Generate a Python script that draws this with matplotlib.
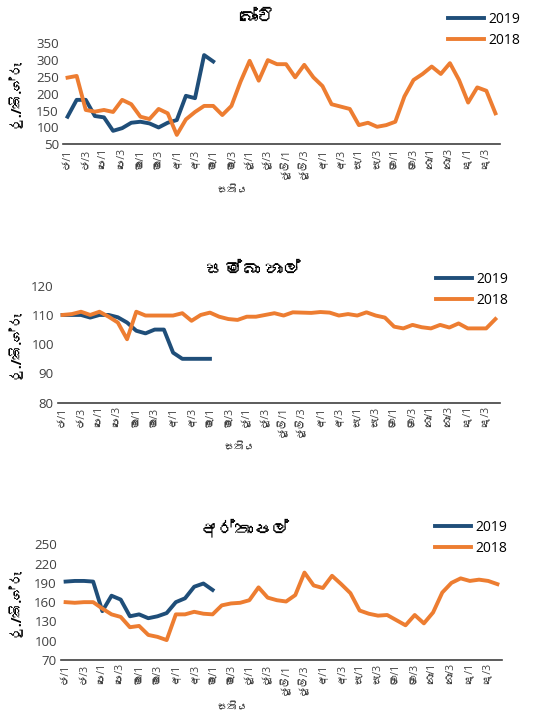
import matplotlib
matplotlib.use("Agg")
from matplotlib import pyplot as plt
from matplotlib import font_manager
from matplotlib.ft2font import FT2Font

# data (48 weeks, 4 per month)
week_labels = ["ජ/1", "ජ/3", "පෙ/1", "පෙ/3", "මා/1", "මා/3", "අ/1", "අ/3",
               "මැ/1", "මැ/3", "ජූ/1", "ජූ/3", "ජූලි/1", "ජූලි/3", "අ/1", "අ/3",
               "සැ/1", "සැ/3", "ඔ/1", "ඔ/3", "නො/1", "නො/3", "දෙ/1", "දෙ/3"]

beans_2018 = [248, 253, 152, 147, 152, 146, 182, 169, 132, 125, 155, 142,
              78, 124, 146, 164, 164, 137, 164, 236, 298, 239, 300, 288,
              288, 249, 286, 249, 223, 169, 162, 155, 107, 114, 102, 107,
              117, 192, 241, 259, 281, 259, 291, 241, 174, 219, 209, 142]
beans_2019 = [132, 182, 182, 134, 130, 90, 98, 114, 117, 112, 100, 114,
              122, 194, 187, 315, 296]

samba_2018 = [110, 110.3, 111.1, 110, 111.1, 109.4, 107.4, 101.7, 111.1, 109.8,
              109.8, 109.8, 109.8, 110.6, 108, 110, 110.8, 109.4, 108.6, 108.3,
              109.4, 109.4, 110, 110.6, 109.8, 110.9, 110.8, 110.7, 111, 110.8,
              109.8, 110.3, 109.8, 110.9, 109.8, 109.1, 106, 105.4, 106.6, 105.8,
              105.4, 106.6, 105.7, 107.1, 105.4, 105.4, 105.4, 108.6]
samba_2019 = [110, 110, 110, 109.1, 110, 110, 109.2, 107.4, 104.6, 103.7,
              105, 105, 97.1, 95, 95, 95, 95]

potato_2018 = [160, 159, 160, 160, 150, 141, 137, 121, 123, 109, 106, 101,
               141, 141, 145, 142, 141, 155, 158, 159, 163, 183, 167, 163,
               161, 171, 206, 186, 182, 201, 188, 174, 147, 142, 139, 140,
               132, 124, 140, 127, 144, 175, 190, 197, 193, 195, 193, 188]
potato_2019 = [192, 193, 193, 192, 146, 170, 164, 138, 141, 135, 138, 143,
               160, 166, 184, 189, 179]

titles = ["බෝංචි", "සම්බා හාල්", "අර්තාපල්"]
ylabel = "රු./කි.ග්රෑ"
xlabel = "සතිය"


# find a font that has Sinhala glyphs, if there is one
def find_sinhala():
    for f in font_manager.fontManager.ttflist:
        try:
            if 0x0DC3 in FT2Font(f.fname).get_charmap():
                return f.name
        except Exception:
            pass
    return None

sin = find_sinhala()
# latin font first so digits come from it, sinhala glyphs fall back
fams = ["Open Sans"] + ([sin] if sin else []) + ["DejaVu Sans"]
plt.rcParams["font.family"] = fams

BLUE = "#1F4E79"
ORANGE = "#ED7D31"
W, H = 548, 713

fig = plt.figure(figsize=(W / 100, H / 100), dpi=100)

# box = (left, right, top, bottom) in pixels
panels = [
    dict(box=(63, 500, 43.3, 144.3), ylim=(50, 350), yt=range(50, 351, 50),
         s18=beans_2018, s19=beans_2019, title=(257, 18), xl=(233, 190), leg=(448, 12)),
    dict(box=(58, 500, 285.7, 402.7), ylim=(80, 120), yt=range(80, 121, 10),
         s18=samba_2018, s19=samba_2019, title=(253, 270), xl=(240, 447), leg=(436, 272)),
    dict(box=(61, 502, 544.3, 660), ylim=(70, 250), yt=range(70, 251, 30),
         s18=potato_2018, s19=potato_2019, title=(245, 529), xl=(233, 707), leg=(435, 520)),
]

for p, title in zip(panels, titles):
    l, r, t, b = p["box"]
    ax = fig.add_axes([l / W, 1 - b / H, (r - l) / W, (b - t) / H])
    x18 = list(range(len(p["s18"])))
    x19 = list(range(len(p["s19"])))
    ax.plot(x19, p["s19"], color=BLUE, lw=2.8, label="2019")
    ax.plot(x18, p["s18"], color=ORANGE, lw=2.8, label="2018")
    ax.set_xlim(-0.5, 47.5)
    ax.set_ylim(*p["ylim"])
    ax.set_yticks(list(p["yt"]))
    ax.set_xticks(list(range(0, 48, 2)))
    ax.set_xticklabels(week_labels, rotation=90, fontsize=7.5, color="#404040")
    for s in ["top", "right", "left"]:
        ax.spines[s].set_visible(False)
    ax.spines["bottom"].set_color("#404040")
    ax.spines["bottom"].set_linewidth(1.2)
    ax.tick_params(axis="both", length=0, pad=3)
    ax.tick_params(axis="y", labelsize=9.5, colors="#404040")
    ax.set_facecolor("none")

    fig.text(p["title"][0] / W, 1 - p["title"][1] / H, title, ha="center", va="center",
             fontsize=13)
    fig.text(p["xl"][0] / W, 1 - p["xl"][1] / H, xlabel, ha="center", va="center",
             fontsize=7.5, color="#404040")
    fig.text(15 / W, 1 - (t + b) / 2 / H, ylabel, rotation=90, ha="center", va="center",
             fontsize=10, fontweight="bold")

    h, lab = ax.get_legend_handles_labels()
    ax.legend(h, lab, loc="upper left", bbox_to_anchor=(p["leg"][0] / W, 1 - p["leg"][1] / H),
              bbox_transform=fig.transFigure, frameon=False, fontsize=10,
              handlelength=2.6, handletextpad=0.3, labelspacing=0.45, borderaxespad=0,
              borderpad=0)

fig.savefig("out.png", dpi=100)
